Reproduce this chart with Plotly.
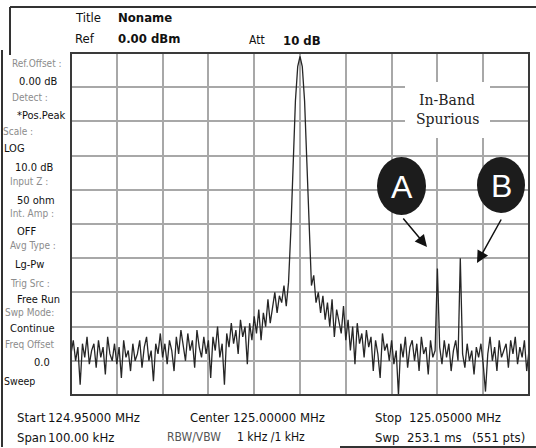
import numpy as np
import plotly.graph_objects as go

# ---------------- data ----------------
START_MHZ = 124.95
STOP_MHZ = 125.05
REF_DBM = 0.0
DB_PER_DIV = 10.0

# trace levels in dBm, one value every 0.5 kHz across the span
levels_dbm = [
    -88, -84, -90, -86, -97, -85, -89, -83, -91, -87,
    -85, -92, -84, -89, -86, -94, -83, -88, -90, -85,
    -91, -86, -95, -84, -89, -87, -93, -85, -90, -88,
    -84, -92, -86, -83, -90, -87, -96, -85, -88, -82,
    -89, -85, -91, -84, -87, -93, -83, -88, -81, -86,
    -90, -82, -87, -84, -92, -81, -86, -89, -83, -88,
    -84, -95, -83, -87, -80, -89, -85, -97, -82, -86,
    -79, -85, -81, -88, -78, -83, -80, -91, -79, -84,
    -77, -82, -75, -84, -76, -80, -72, -79, -74, -70,
    -76, -71, -73, -68, -74, -67,
    -52, -32, -14, -4, -1, -4, -14, -32, -52, -68,
    -65, -73, -70, -76,
    -71, -78, -73, -80, -72, -83, -75, -79, -82, -74,
    -84, -78, -87, -80, -91, -79, -85, -82, -89, -81,
    -86, -83, -93, -84, -88, -95, -82, -87, -85, -90,
    -84, -91, -87, -100, -85, -89, -83, -92, -86, -84,
    -90, -85, -93, -83, -88, -86, -94, -84, -89, -87,
    -63,
    -86, -91, -84, -89, -85, -93, -87, -84, -90,
    -60,
    -88, -92, -85, -90, -87, -94, -86, -89, -85,
    -91, -99, -88, -83, -90, -86, -93, -84, -89, -87,
    -85, -92, -84, -88, -83, -91, -86, -89, -84, -93, -87,
]
freqs_mhz = np.linspace(START_MHZ, STOP_MHZ, len(levels_dbm))

# side panel: (label, value) pairs
side_labels = ["Ref.Offset :", "Detect :", "Scale :", "Input Z :", "Int. Amp :",
               "Avg Type :", "Trig Src :", "Swp Mode:", "Freq Offset", "Sweep"]
side_values = ["0.00 dB", "*Pos.Peak", "LOG\n10.0 dB", "50 ohm", "OFF",
               "Lg-Pw", "Free Run", "Continue", "0.0", ""]

# ---------------- layout helpers ----------------
FW, FH = 536, 448
L, T, R, B = 71, 53, 529, 395
PW, PH = R - L, B - T


def px(x):
    return (x - L) / PW


def py(y):
    return (B - y) / PH


SANS = "Liberation Sans Narrow, DejaVu Sans Condensed, Liberation Sans, Arial"
SERIF = "DejaVu Serif, Liberation Serif, serif"

fig = go.Figure()
fig.add_trace(go.Scatter(
    x=freqs_mhz, y=levels_dbm, mode="lines",
    line=dict(color="#262626", width=1.3), hoverinfo="skip", showlegend=False,
))

annotations = []


def text(x, y, s, size=12, color="#111", bold=False, family=SANS, anchor="left"):
    if bold:
        s = "<b>" + s + "</b>"
    annotations.append(dict(
        x=px(x), y=py(y), xref="paper", yref="paper", text=s, showarrow=False,
        xanchor=anchor, yanchor="middle",
        font=dict(family=family, size=size, color=color),
    ))


# top header
text(73, 18, "Title", 13)
text(116, 18, "Noname", 13, bold=True)
text(73, 39, "Ref", 13)
text(116, 39, "0.00 dBm", 13, bold=True)
text(247, 40, "Att", 12)
text(281, 40, "10 dB", 13, bold=True)

# left panel (positions in pixels)
GRAY = "#8c8c8c"
label_pos = [(10, 63), (10, 97), (1, 131), (8, 182), (8, 213),
             (8, 245), (8, 283), (3, 312), (3, 344), (2, 381)]
value_pos = [[(17, 82)], [(15, 115)], [(2, 148), (13, 167)], [(15, 200)], [(15, 231)],
             [(13, 264)], [(15, 299)], [(8, 328)], [(52, 362)], []]
for lab, (lx, ly), val, vps in zip(side_labels, label_pos, side_values, value_pos):
    if lab == "Sweep":
        text(lx, ly, lab, 10.5, color="#111")
    else:
        text(lx, ly, lab, 10, color=GRAY)
    parts = val.split("\n") if val else []
    for part, (vx, vy) in zip(parts, vps):
        if part == "0.0":
            text(vx, vy, part, 11, color="#111", anchor="right")
        else:
            text(vx, vy, part, 11, color="#111")

# bottom info
text(15, 417, "Start", 13)
text(46, 417, "124.95000 MHz", 13)
text(188, 417, "Center", 13)
text(231, 417, "125.00000 MHz", 13)
text(373, 417, "Stop", 13)
text(407, 417, "125.05000 MHz", 13)
text(15, 437, "Span", 13)
text(46, 437, "100.00 kHz", 13)
text(165, 437, "RBW/VBW", 12, color="#555")
text(235, 437, "1 kHz /1 kHz", 12)
text(373, 437, "Swp", 13)
text(405, 437, "253.1 ms", 13)
text(470, 437, "(551 pts)", 13)

# In-band spurious label
text(447, 100, "In-Band", 14, color="#222", family=SERIF, anchor="center")
text(447, 119, "Spurious", 14, color="#222", family=SERIF, anchor="center")

# A / B circles letters
text(401.5, 187, "A", 32, color="white", family="Liberation Sans, Arial", anchor="center")
text(501, 186, "B", 32, color="white", family="Liberation Sans, Arial", anchor="center")

# arrows
for (tx, ty, hx, hy) in [(402, 217, 427, 247), (502, 218, 477, 263)]:
    annotations.append(dict(
        x=px(hx), y=py(hy), xref="paper", yref="paper", text="",
        showarrow=True, ax=tx - hx, ay=ty - hy, axref="pixel", ayref="pixel",
        arrowhead=2, arrowsize=1.6, arrowwidth=1.5, arrowcolor="#111",
    ))

shapes = [
    # white box behind In-Band label
    dict(type="rect", xref="paper", yref="paper", x0=px(405), x1=px(490),
         y0=py(138), y1=py(82), fillcolor="white", line=dict(width=0), layer="above"),
    # circles
    dict(type="circle", xref="paper", yref="paper", x0=px(377), x1=px(426),
         y0=py(215), y1=py(157), fillcolor="#1c1c1c", line=dict(width=0), layer="above"),
    dict(type="circle", xref="paper", yref="paper", x0=px(477), x1=px(525),
         y0=py(213), y1=py(157), fillcolor="#1c1c1c", line=dict(width=0), layer="above"),
    # outer frame pieces
    dict(type="line", xref="paper", yref="paper", x0=px(10), x1=px(536),
         y0=py(7), y1=py(7), line=dict(color="#333", width=2)),
    dict(type="line", xref="paper", yref="paper", x0=px(10), x1=px(10),
         y0=py(7), y1=py(55), line=dict(color="#333", width=2)),
    dict(type="line", xref="paper", yref="paper", x0=px(2), x1=px(2),
         y0=py(50), y1=py(447), line=dict(color="#333", width=2)),
    dict(type="line", xref="paper", yref="paper", x0=px(340), x1=px(536),
         y0=py(447), y1=py(447), line=dict(color="#333", width=2)),
    # plot frame
    dict(type="rect", xref="paper", yref="paper", x0=0, x1=1, y0=0, y1=1,
         line=dict(color="#3a3a3a", width=2), layer="above"),
]
fig.update_layout(
    width=FW, height=FH,
    margin=dict(l=L, r=FW - R, t=T, b=FH - B, pad=0),
    paper_bgcolor="white", plot_bgcolor="white",
    showlegend=False,
    xaxis=dict(range=[START_MHZ, STOP_MHZ], tick0=START_MHZ, dtick=0.01,
               showgrid=True, gridcolor="#a8a8a8", gridwidth=1.6,
               showticklabels=False, ticks="", zeroline=False, showline=False,
               fixedrange=True),
    yaxis=dict(range=[REF_DBM - 10 * DB_PER_DIV, REF_DBM], tick0=0, dtick=DB_PER_DIV,
               showgrid=True, gridcolor="#a8a8a8", gridwidth=1.6,
               showticklabels=False, ticks="", zeroline=False, showline=False,
               fixedrange=True),
    annotations=annotations,
    shapes=shapes,
)
fig.write_html("out.html", config={"displayModeBar": False})
